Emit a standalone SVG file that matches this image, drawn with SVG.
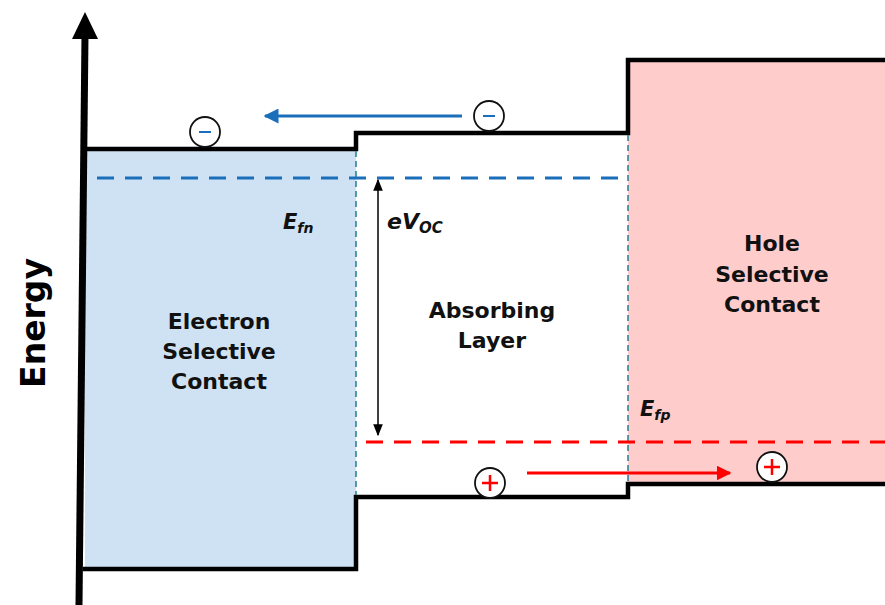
<svg xmlns="http://www.w3.org/2000/svg" width="885" height="605" viewBox="0 0 885 605">
<style>
.band{fill:none;stroke:#000;stroke-width:4.5;stroke-linejoin:miter;stroke-linecap:square}
.lbl{font-family:"DejaVu Sans",sans-serif;font-weight:bold;font-size:22px;fill:#111;text-anchor:middle}
.it{font-family:"DejaVu Sans",sans-serif;font-weight:bold;font-style:italic;fill:#111}
.div{stroke:#1f7f96;stroke-width:1.5;stroke-dasharray:6 4;fill:none}
.circ{fill:#fff;stroke:#111;stroke-width:1.8}
</style>
<defs>
<marker id="ahB" viewBox="0 0 10 10" refX="9" refY="5" markerWidth="5" markerHeight="5" orient="auto-start-reverse"><path d="M0,0L10,5L0,10z" fill="#1a6fbb"/></marker>
<marker id="ahR" viewBox="0 0 10 10" refX="9" refY="5" markerWidth="5" markerHeight="5" orient="auto-start-reverse"><path d="M0,0L10,5L0,10z" fill="#ff0000"/></marker>
<marker id="ahK" viewBox="0 0 10 10" refX="9" refY="5" markerWidth="8" markerHeight="8" orient="auto-start-reverse"><path d="M0,1L10,5L0,9z" fill="#000"/></marker>
</defs>
<rect width="885" height="605" fill="#fff"/>
<g id="hole-contact">
<rect x="628" y="60" width="257" height="424" fill="#ffcccc"/>
<text class="lbl" x="772" y="251">Hole</text>
<text class="lbl" x="772" y="282">Selective</text>
<text class="lbl" x="772" y="312">Contact</text>
</g>
<g id="electron-contact">
<rect x="85" y="149" width="271" height="420" fill="#cfe2f3"/>
<text class="lbl" x="219" y="329">Electron</text>
<text class="lbl" x="219" y="359">Selective</text>
<text class="lbl" x="219" y="389">Contact</text>
</g>
<g id="absorbing-layer">
<text class="lbl" x="492" y="318">Absorbing</text>
<text class="lbl" x="492" y="348">Layer</text>
</g>
<g id="bands">
<path class="band" d="M85,149H356V133H628V60H885"/>
<path class="band" d="M85,569H356V497H628V484H885"/>
<line class="div" x1="356" y1="151" x2="356" y2="495"/>
<line class="div" x1="628" y1="135" x2="628" y2="482"/>
</g>
<g id="fermi-levels">
<line x1="97" y1="178" x2="628" y2="178" stroke="#1a6fbb" stroke-width="3" stroke-dasharray="17 11"/>
<line x1="366" y1="442" x2="885" y2="442" stroke="#ff0000" stroke-width="3" stroke-dasharray="17 11"/>
<text class="it" x="283" y="229" font-size="21">E<tspan font-size="14" dy="4">fn</tspan></text>
<text class="it" x="640" y="416" font-size="21">E<tspan font-size="14" dy="4">fp</tspan></text>
<text class="it" x="387" y="229" font-size="22">eV<tspan font-size="15" dy="4">OC</tspan></text>
</g>
<g id="axis">
<line x1="79" y1="605" x2="85" y2="35" stroke="#000" stroke-width="7"/>
<path d="M72,39L85,12L98,39z" fill="#000"/>
<text x="0" y="0" transform="translate(45,323) rotate(-90)" font-family="DejaVu Sans,sans-serif" font-weight="bold" font-size="33" text-anchor="middle" fill="#000">Energy</text>
</g>
<g id="connectors">
<line x1="462" y1="116" x2="265" y2="116" stroke="#1a6fbb" stroke-width="3" marker-end="url(#ahB)"/>
<line x1="527" y1="473" x2="730" y2="473" stroke="#ff0000" stroke-width="3" marker-end="url(#ahR)"/>
<line x1="378" y1="435" x2="378" y2="180" stroke="#000" stroke-width="1.5" marker-start="url(#ahK)" marker-end="url(#ahK)"/>
</g>
<g id="electron-1">
<circle class="circ" cx="205" cy="132" r="15"/>
<line x1="199" y1="132" x2="211" y2="132" stroke="#1a6fbb" stroke-width="2"/>
</g>
<g id="electron-2">
<circle class="circ" cx="489" cy="116" r="15"/>
<line x1="483" y1="116" x2="495" y2="116" stroke="#1a6fbb" stroke-width="2"/>
</g>
<g id="hole-1">
<circle class="circ" cx="490" cy="483" r="15"/>
<path d="M482,483H498M490,475V491" stroke="#ff0000" stroke-width="2.5"/>
</g>
<g id="hole-2">
<circle class="circ" cx="772" cy="467" r="15"/>
<path d="M764,467H780M772,459V475" stroke="#ff0000" stroke-width="2.5"/>
</g>
</svg>
